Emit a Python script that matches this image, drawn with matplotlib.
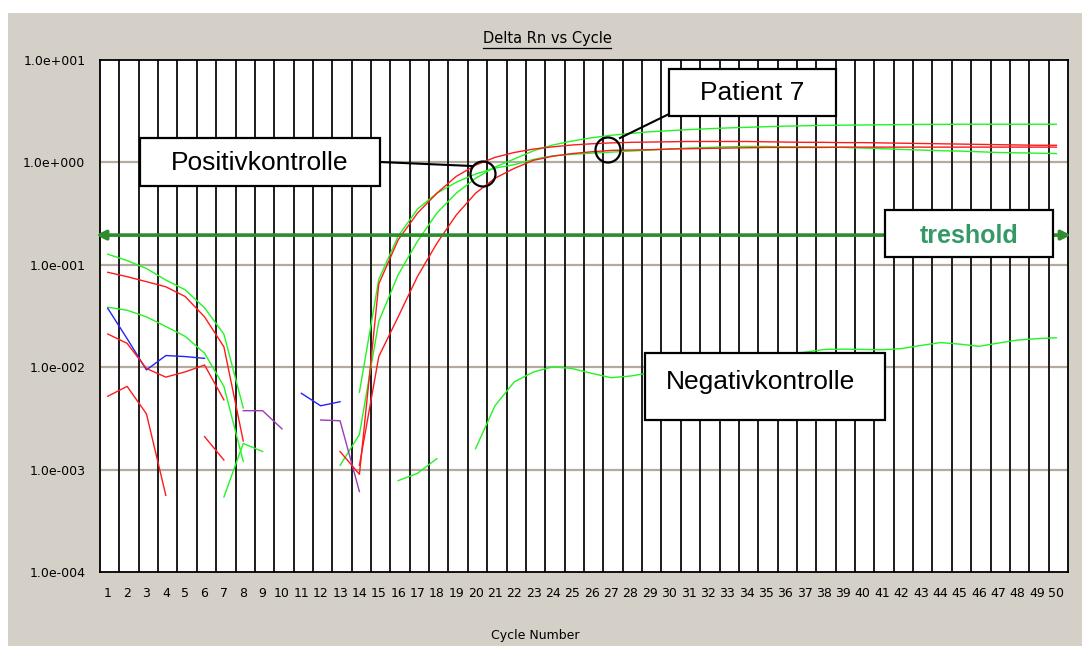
import numpy as np
import matplotlib
matplotlib.use("Agg")
import matplotlib.pyplot as plt
from matplotlib.patches import Rectangle, Ellipse
from matplotlib.lines import Line2D
from matplotlib.ticker import NullLocator

# Achsen
cycle_ticks = list(range(1, 51))
decades = [1e-4, 1e-3, 1e-2, 1e-1, 1e0, 1e1]
decade_labels = ["1.0e-004", "1.0e-003", "1.0e-002", "1.0e-001", "1.0e+000", "1.0e+001"]
threshold = 0.195

# Amplifikationskurven: Startzyklus + Delta-Rn-Werte
red_a_start = 13
red_a = [0.0015, 0.0009, 0.065, 0.175, 0.32, 0.50, 0.73, 0.94, 1.12, 1.25,
         1.35, 1.42, 1.48, 1.52, 1.55, 1.57, 1.58, 1.59, 1.60, 1.60,
         1.60, 1.60, 1.59, 1.58, 1.57, 1.57, 1.56, 1.56, 1.55, 1.54,
         1.53, 1.52, 1.51, 1.50, 1.49, 1.48, 1.47, 1.47]

red_b_start = 14
red_b = [0.0011, 0.0127, 0.031, 0.077, 0.162, 0.306, 0.50, 0.70, 0.875, 1.05,
         1.15, 1.22, 1.27, 1.31, 1.32, 1.33, 1.35, 1.36, 1.37, 1.38,
         1.39, 1.40, 1.40, 1.40, 1.40, 1.41, 1.41, 1.41, 1.41, 1.41,
         1.41, 1.41, 1.41, 1.41, 1.41, 1.41, 1.41]

green_a_start = 14
green_a = [0.0057, 0.072, 0.19, 0.35, 0.50, 0.64, 0.77, 0.88, 0.95, 1.07,
           1.16, 1.20, 1.23, 1.26, 1.29, 1.32, 1.35, 1.38, 1.40, 1.42,
           1.43, 1.43, 1.42, 1.42, 1.41, 1.40, 1.38, 1.36, 1.34, 1.32,
           1.30, 1.29, 1.27, 1.25, 1.24, 1.23, 1.22]

green_b_start = 13
green_b = [0.0011, 0.0022, 0.028, 0.080, 0.17, 0.32, 0.50, 0.70, 0.90, 1.08,
           1.30, 1.48, 1.62, 1.74, 1.84, 1.92, 1.99, 2.04, 2.09, 2.13,
           2.17, 2.20, 2.23, 2.26, 2.28, 2.30, 2.31, 2.32, 2.33, 2.34,
           2.35, 2.35, 2.36, 2.36, 2.36, 2.36, 2.36, 2.36]

neg_start = 20
neg = [0.0016, 0.0042, 0.0072, 0.0090, 0.0101, 0.0097, 0.0087, 0.0079, 0.0082, 0.0088,
       0.0095, 0.0103, 0.0110, 0.0118, 0.0125, 0.0130, 0.0135, 0.0140, 0.0149, 0.0150,
       0.0149, 0.0148, 0.0152, 0.0163, 0.0174, 0.0168, 0.0160, 0.0172, 0.0184, 0.0190,
       0.0194]

# Baseline-Fragmente (nur positive Werte sichtbar)
g1_start, g1 = 1, [0.127, 0.110, 0.092, 0.071, 0.057, 0.038, 0.021, 0.004]
g2_start, g2 = 1, [0.0385, 0.036, 0.031, 0.025, 0.020, 0.0137, 0.0065, 0.0012]
g3_start, g3 = 7, [0.00054, 0.0018, 0.0015]
ng_start, ng = 16, [0.00078, 0.00092, 0.00128]
r1_start, r1 = 1, [0.0845, 0.0766, 0.0684, 0.061, 0.049, 0.031, 0.0158, 0.0019]
r2_start, r2 = 1, [0.0211, 0.0171, 0.0097, 0.0080, 0.0090, 0.0105, 0.0048]
r3_start, r3 = 1, [0.0052, 0.0065, 0.0035, 0.00056]
r4_start, r4 = 6, [0.0021, 0.00124]
b1_start, b1 = 1, [0.0376, 0.019, 0.0094, 0.013, 0.0127, 0.0122]
b2_start, b2 = 11, [0.00556, 0.0042, 0.0046]
m1_start, m1 = 8, [0.00376, 0.00376, 0.0025]
m2_start, m2 = 12, [0.00305, 0.0030, 0.00061]

RED = "#ff1a1a"
GREEN = "#22f522"
BLUE = "#2222ff"
PURPLE = "#9a3cb8"

curves = [
    (g1_start, g1, GREEN), (g2_start, g2, GREEN), (g3_start, g3, GREEN),
    (ng_start, ng, GREEN), (neg_start, neg, GREEN),
    (green_a_start, green_a, GREEN), (green_b_start, green_b, GREEN),
    (b1_start, b1, BLUE), (b2_start, b2, BLUE),
    (m1_start, m1, PURPLE), (m2_start, m2, PURPLE),
    (r1_start, r1, RED), (r2_start, r2, RED), (r3_start, r3, RED), (r4_start, r4, RED),
    (red_a_start, red_a, RED), (red_b_start, red_b, RED),
]

W, H = 1082, 646


def fx(x):
    return x / W


def fy(y):
    return 1 - y / H


fig = plt.figure(figsize=(W / 100, H / 100), dpi=100)
fig.patch.set_facecolor("white")
fig.add_artist(Rectangle((fx(8), 0), 1, fy(13), transform=fig.transFigure,
                         facecolor="#d4d0c8", edgecolor="none", zorder=-10))

ax = fig.add_axes([fx(100), fy(572), fx(968), 512 / H])
ax.set_facecolor("white")
ax.set_yscale("log")
ax.set_ylim(1e-4, 1e1)
ax.set_xlim(0.6, 50.6)

for k in range(1, 50):
    ax.axvline(k + 0.6, color="#1c1c1c", lw=1.4, zorder=1)
for d in decades[1:-1]:
    ax.axhline(d, color="#b3ac9e", lw=1.6, zorder=0.9)

for start, vals, col in curves:
    ax.plot(np.arange(start, start + len(vals)), vals, color=col, lw=1.0, zorder=3)

ax.set_xticks(cycle_ticks)
ax.set_yticks(decades, decade_labels)
ax.yaxis.set_minor_locator(NullLocator())
ax.tick_params(length=0, labelsize=9, pad=10.5)
for s in ax.spines.values():
    s.set_color("black")
    s.set_linewidth(1.3)

# Schwellenwert
tr = ax.get_yaxis_transform()
ax.annotate("", xy=(1.003, threshold), xytext=(-0.004, threshold),
            xycoords=tr, textcoords=tr, annotation_clip=False,
            arrowprops=dict(arrowstyle="<|-|>,head_length=0.6,head_width=0.3",
                            color="#2e8b2e", lw=2.6, shrinkA=0, shrinkB=0,
                            mutation_scale=9), zorder=4)

# Titel und Achsenbeschriftung
title = fig.text(fx(547), fy(38), "Delta Rn vs Cycle", ha="center", va="center", fontsize=10.5)
fig.text(fx(535), fy(636), "Cycle Number", ha="center", va="center", fontsize=9)

fig.canvas.draw()
bb = title.get_window_extent().transformed(fig.transFigure.inverted())
fig.add_artist(Line2D([bb.x0, bb.x1], [bb.y0 - 0.004] * 2, color="black", lw=0.9,
                      transform=fig.transFigure))


def box(x0, y0, x1, y1, text, tx, ty, **kw):
    fig.add_artist(Rectangle((fx(x0), fy(y1)), fx(x1 - x0), (y1 - y0) / H,
                             transform=fig.transFigure, facecolor="white",
                             edgecolor="black", lw=1.6, zorder=5))
    fig.text(fx(tx), fy(ty), text, ha="center", va="center", zorder=6,
             family="Liberation Sans", **kw)


def ring(x, y):
    fig.add_artist(Ellipse((fx(x), fy(y)), 25 / W, 25 / H, transform=fig.transFigure,
                           facecolor="none", edgecolor="black", lw=1.6, zorder=5))


def leader(x0, y0, x1, y1):
    fig.add_artist(Line2D([fx(x0), fx(x1)], [fy(y0), fy(y1)], color="black",
                          lw=1.5, transform=fig.transFigure, zorder=5))


leader(380, 162, 472, 166)
ring(483, 174)
box(140, 138, 380, 186, "Positivkontrolle", 260, 163, fontsize=19)

leader(620, 138, 669, 114)
ring(608, 150)
box(669, 69, 836, 116, "Patient 7", 752, 93, fontsize=19)

box(645, 353, 885, 420, "Negativkontrolle", 761, 382, fontsize=19)

box(885, 210, 1053, 257, "treshold", 969, 236, fontsize=18,
    fontweight="bold", color="#339966")

fig.savefig("out.png", dpi=100, facecolor=fig.get_facecolor())
